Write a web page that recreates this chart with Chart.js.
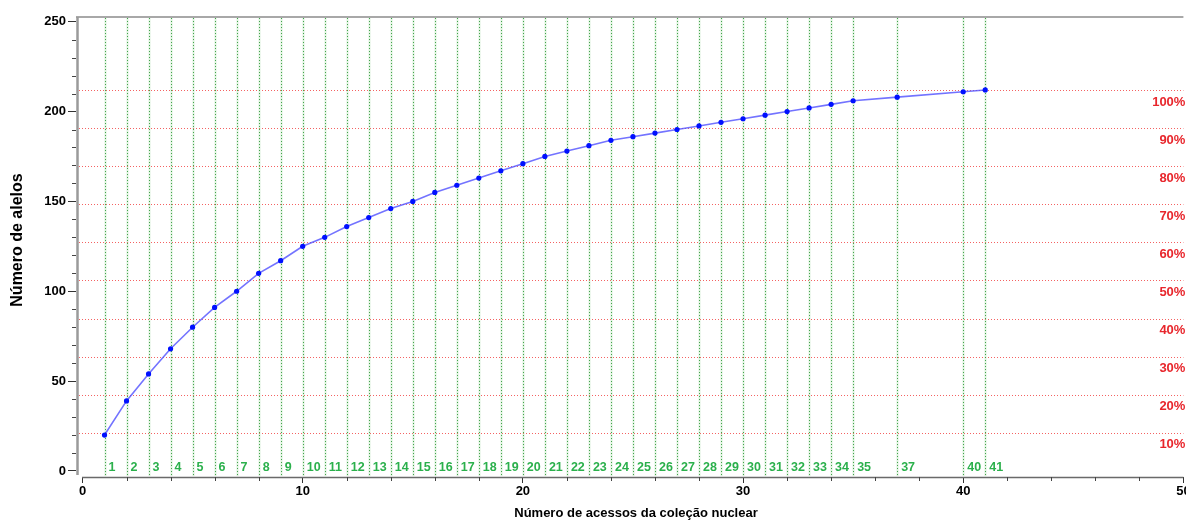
<!DOCTYPE html>
<html>
<head>
<meta charset="utf-8">
<script src="https://cdn.jsdelivr.net/npm/chart.js@4.4.1/dist/chart.umd.min.js"></script>
<style>
  html, body { margin: 0; padding: 0; background: #ffffff; }
  #wrap { width: 1186px; height: 521px; position: relative; }
</style>
</head>
<body>
<div id="wrap"><canvas id="c"></canvas></div>
<script>
// Accessions added to the core collection and the cumulative allele count
const accessions = [1, 2, 3, 4, 5, 6, 7, 8, 9, 10,
                    11, 12, 13, 14, 15, 16, 17, 18, 19, 20,
                    21, 22, 23, 24, 25, 26, 27, 28, 29, 30,
                    31, 32, 33, 34, 35, 37, 40, 41];
const alleles = [20, 39, 54, 68, 80, 91, 100, 110, 117, 125,
                 130, 136, 141, 146, 150, 155, 159, 163, 167, 171,
                 175, 178, 181, 184, 186, 188, 190, 192, 194, 196,
                 198, 200, 202, 204, 206, 208, 211, 212];

// Axis ticks
const xTicks = [0, 10, 20, 30, 40, 50];
const xMinorTicks = [2, 4, 6, 8, 12, 14, 16, 18, 22, 24, 26, 28, 32, 34, 36, 38, 42, 44, 46, 48];
const yTicks = [0, 50, 100, 150, 200, 250];
const yMinorTicks = [10, 20, 30, 40, 60, 70, 80, 90, 110, 120, 130, 140, 160, 170, 180, 190, 210, 220, 230, 240];

// Percent-of-total reference levels
const percentLevels = [10, 20, 30, 40, 50, 60, 70, 80, 90, 100];

const xTitle = 'Número de acessos da coleção nuclear';
const yTitle = 'Número de alelos';

const FONT = '"Liberation Sans", Arial, sans-serif';
const totalAlleles = Math.max(...alleles);

// Reference grid, frame, minor ticks and annotations
const overlay = {
  id: 'overlay',
  beforeDatasetsDraw(chart) {
    const { ctx, chartArea: a, scales: { x, y } } = chart;
    ctx.save();

    // horizontal red lines at each percent level
    ctx.lineWidth = 1;
    ctx.setLineDash([1, 2]);
    ctx.strokeStyle = 'rgba(242, 70, 70, 0.85)';
    percentLevels.forEach(p => {
      const py = Math.round(y.getPixelForValue(totalAlleles * p / 100)) + 0.5;
      ctx.beginPath();
      ctx.moveTo(a.left + 3, py);
      ctx.lineTo(a.right, py);
      ctx.stroke();
    });

    // vertical green lines at each accession count (soft halo + dotted core)
    ctx.setLineDash([]);
    ctx.strokeStyle = 'rgba(120, 200, 120, 0.25)';
    ctx.lineWidth = 2;
    accessions.forEach(v => {
      const px = Math.round(x.getPixelForValue(v)) + 0.5;
      ctx.beginPath();
      ctx.moveTo(px, a.top + 1);
      ctx.lineTo(px, a.bottom - 1);
      ctx.stroke();
    });
    ctx.setLineDash([1, 2]);
    ctx.lineWidth = 1;
    ctx.strokeStyle = 'rgba(40, 150, 50, 0.85)';
    accessions.forEach(v => {
      const px = Math.round(x.getPixelForValue(v)) + 0.5;
      ctx.beginPath();
      ctx.moveTo(px, a.top + 1);
      ctx.lineTo(px, a.bottom - 1);
      ctx.stroke();
    });
    ctx.setLineDash([]);

    // frame: top and left edges
    ctx.strokeStyle = '#a8a8a8';
    ctx.lineWidth = 2;
    ctx.beginPath();
    ctx.moveTo(a.left, a.top);
    ctx.lineTo(a.right, a.top);
    ctx.stroke();
    ctx.strokeStyle = '#9a9a9a';
    ctx.lineWidth = 2.5;
    ctx.beginPath();
    ctx.moveTo(a.left + 1.5, a.top);
    ctx.lineTo(a.left + 1.5, a.bottom - 2);
    ctx.stroke();

    // x axis line starting at zero
    ctx.strokeStyle = '#6a6a6a';
    ctx.lineWidth = 1.5;
    ctx.beginPath();
    ctx.moveTo(Math.round(x.getPixelForValue(0)), a.bottom + 0.5);
    ctx.lineTo(a.right, a.bottom + 0.5);
    ctx.stroke();

    // minor ticks
    ctx.strokeStyle = '#444';
    ctx.lineWidth = 1;
    xMinorTicks.forEach(v => {
      const px = Math.round(x.getPixelForValue(v)) + 0.5;
      ctx.beginPath();
      ctx.moveTo(px, a.bottom);
      ctx.lineTo(px, a.bottom + 4);
      ctx.stroke();
    });
    yMinorTicks.forEach(v => {
      const py = Math.round(y.getPixelForValue(v)) + 0.5;
      ctx.beginPath();
      ctx.moveTo(a.left - 4, py);
      ctx.lineTo(a.left, py);
      ctx.stroke();
    });

    // accession count labels along the bottom
    ctx.fillStyle = '#2bb04c';
    ctx.font = 'bold 12.5px ' + FONT;
    ctx.textAlign = 'left';
    ctx.textBaseline = 'middle';
    const labelY = y.getPixelForValue(0) - 3;
    accessions.forEach(v => {
      ctx.fillText(String(v), x.getPixelForValue(v) + 4, labelY);
    });

    // percent labels under each red line
    ctx.fillStyle = '#e8262c';
    ctx.font = 'bold 13px ' + FONT;
    ctx.textAlign = 'right';
    percentLevels.forEach(p => {
      ctx.fillText(p + '%', a.right + 2, y.getPixelForValue(totalAlleles * p / 100) + 12);
    });

    // axis titles
    ctx.fillStyle = '#000';
    ctx.textAlign = 'center';
    ctx.font = 'bold 13px ' + FONT;
    ctx.fillText(xTitle, 636, 513);
    ctx.save();
    ctx.translate(18, 240);
    ctx.rotate(-Math.PI / 2);
    ctx.font = 'bold 16px ' + FONT;
    ctx.fillText(yTitle, 0, 0);
    ctx.restore();

    ctx.restore();
  }
};

const points = accessions.map((v, i) => ({ x: v, y: alleles[i] }));

new Chart(document.getElementById('c'), {
  type: 'line',
  data: {
    datasets: [{
      data: points,
      borderColor: 'rgba(80, 80, 255, 0.8)',
      borderWidth: 1.6,
      pointRadius: 2.6,
      pointHoverRadius: 2.6,
      pointBackgroundColor: '#0010ff',
      pointBorderColor: '#0010ff',
      pointBorderWidth: 0,
      tension: 0,
      fill: false
    }]
  },
  options: {
    responsive: true,
    maintainAspectRatio: false,
    animation: false,
    devicePixelRatio: 1,
    layout: { padding: { top: 17, right: 0, left: 0, bottom: 0 } },
    plugins: { legend: { display: false }, tooltip: { enabled: false } },
    scales: {
      x: {
        type: 'linear',
        min: -0.295,
        max: 50,
        afterBuildTicks: s => { s.ticks = xTicks.map(v => ({ value: v })); },
        afterFit: s => { s.height = 44; s.paddingLeft = 0; s.paddingRight = 0; },
        grid: { drawOnChartArea: false, drawTicks: true, tickLength: 6, tickColor: '#333', tickWidth: 1 },
        border: { display: false },
        ticks: {
          padding: 1,
          maxRotation: 0,
          autoSkip: false,
          color: '#000',
          font: { family: FONT, size: 13, weight: 'bold' }
        }
      },
      y: {
        type: 'linear',
        min: -3.34,
        max: 252.6,
        afterBuildTicks: s => { s.ticks = yTicks.map(v => ({ value: v })); },
        afterFit: s => { s.width = 76; },
        grid: { drawOnChartArea: false, drawTicks: true, tickLength: 8, tickColor: '#333', tickWidth: 1 },
        border: { display: false },
        ticks: {
          padding: 2,
          autoSkip: false,
          color: '#000',
          font: { family: FONT, size: 13, weight: 'bold' }
        }
      }
    }
  },
  plugins: [overlay]
});
</script>
</body>
</html>
